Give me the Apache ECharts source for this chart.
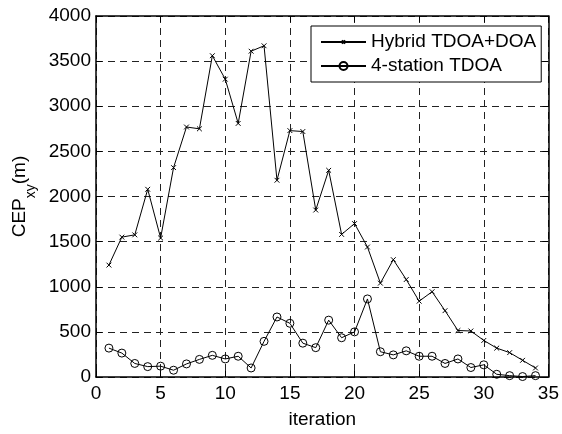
<!DOCTYPE html>
<html><head><meta charset="utf-8">
<script src="https://cdn.jsdelivr.net/npm/echarts@6/dist/echarts.min.js"></script>
<style>html,body{margin:0;padding:0;background:#fff}#c{width:562px;height:434px}</style>
</head><body><div id="c"></div>
<script>
const iterations = [1,2,3,4,5,6,7,8,9,10,11,12,13,14,15,16,17,18,19,20,21,22,23,24,25,26,27,28,29,30,31,32,33,34];
const hybridTdoaDoa = [1240,1550,1575,2080,1540,2320,2770,2750,3560,3300,2810,3610,3670,2180,2730,2720,1850,2290,1580,1700,1440,1040,1300,1080,840,945,735,515,510,405,320,270,185,100];
const fourStationTdoa = [320,265,150,115,120,75,145,195,240,200,230,100,395,665,595,375,325,630,435,500,865,280,245,290,230,230,150,200,105,135,30,15,5,15];
const seriesNames = ['Hybrid TDOA+DOA', '4-station TDOA'];
const xTicks = [0,5,10,15,20,25,30,35];
const yTicks = [0,500,1000,1500,2000,2500,3000,3500,4000];
const xLabel = 'iteration';

const FONT = 'Liberation Sans, Arial, Helvetica, sans-serif';
const chart = echarts.init(document.getElementById('c'), null, {renderer: 'canvas'});
const axisLineStyle = {color: '#000', width: 1.5};
const xBase = {
  type: 'value', min: xTicks[0], max: xTicks[xTicks.length - 1], interval: xTicks[1] - xTicks[0]
};
const yBase = {
  type: 'value', min: yTicks[0], max: yTicks[yTicks.length - 1], interval: yTicks[1] - yTicks[0]
};
const gridSplit = {show: true, lineStyle: {color: '#222', width: 1, type: [7, 5]}};
const pair = arr => iterations.map((x, i) => [x, arr[i]]);
const plainNum = v => String(v);

chart.setOption({
  animation: false,
  backgroundColor: '#fff',
  textStyle: {fontFamily: FONT, color: '#000'},
  grid: {left: 96, right: 11, top: 16, bottom: 53, containLabel: false},
  legend: {
    left: 311, top: 26,
    orient: 'vertical',
    backgroundColor: '#fff', borderColor: '#000', borderWidth: 1,
    padding: [6, 5, 6, 9],
    itemWidth: 45, itemHeight: 10, itemGap: 4,
    textStyle: {fontFamily: FONT, fontSize: 19, color: '#000', lineHeight: 20},
    data: seriesNames
  },
  xAxis: [
    Object.assign({}, xBase, {
      position: 'bottom',
      name: xLabel, nameLocation: 'middle', nameGap: 33,
      nameTextStyle: {fontFamily: FONT, fontSize: 19, color: '#000'},
      axisLine: {show: true, lineStyle: axisLineStyle},
      axisTick: {show: true, inside: true, length: 6, lineStyle: {color: '#000', width: 1}},
      axisLabel: {show: true, margin: 7, fontFamily: FONT, fontSize: 19, color: '#000', formatter: plainNum},
      splitLine: gridSplit
    }),
    Object.assign({}, xBase, {
      position: 'top',
      axisLine: {show: true, onZero: false, lineStyle: axisLineStyle},
      axisTick: {show: true, inside: true, length: 6, lineStyle: {color: '#000', width: 1}},
      axisLabel: {show: false},
      splitLine: {show: false}
    })
  ],
  yAxis: [
    Object.assign({}, yBase, {
      position: 'left',
      name: '{a|CEP}{b|xy}{a|(m)}', nameLocation: 'middle', nameGap: 58, nameRotate: 90,
      nameTextStyle: {
        fontFamily: FONT, color: '#000',
        rich: {
          a: {fontFamily: FONT, fontSize: 19, color: '#000', lineHeight: 36},
          b: {fontFamily: FONT, fontSize: 14, color: '#000', lineHeight: 14, verticalAlign: 'bottom'}
        }
      },
      axisLine: {show: true, onZero: false, lineStyle: axisLineStyle},
      axisTick: {show: true, inside: true, length: 6, lineStyle: {color: '#000', width: 1}},
      axisLabel: {show: true, margin: 5, fontFamily: FONT, fontSize: 19, color: '#000', formatter: plainNum},
      splitLine: gridSplit
    }),
    Object.assign({}, yBase, {
      position: 'right',
      axisLine: {show: true, onZero: false, lineStyle: axisLineStyle},
      axisTick: {show: true, inside: true, length: 6, lineStyle: {color: '#000', width: 1}},
      axisLabel: {show: false},
      splitLine: {show: false}
    })
  ],
  series: [
    {
      name: seriesNames[0], type: 'line', xAxisIndex: 0, yAxisIndex: 0,
      data: pair(hybridTdoaDoa),
      symbol: 'path://M0,0M10,10M3,3L7,7M3,7L7,3', symbolSize: 12, showAllSymbol: true,
      lineStyle: {color: '#000', width: 1},
      itemStyle: {color: 'rgba(0,0,0,0)', borderColor: '#000', borderWidth: 1},
      emphasis: {disabled: true}, z: 3
    },
    {
      name: seriesNames[1], type: 'line', xAxisIndex: 0, yAxisIndex: 0,
      data: pair(fourStationTdoa),
      symbol: 'circle', symbolSize: 8, showAllSymbol: true,
      lineStyle: {color: '#000', width: 1},
      itemStyle: {color: 'rgba(0,0,0,0)', borderColor: '#000', borderWidth: 1},
      emphasis: {disabled: true}, z: 3
    }
  ]
});
</script></body></html>
